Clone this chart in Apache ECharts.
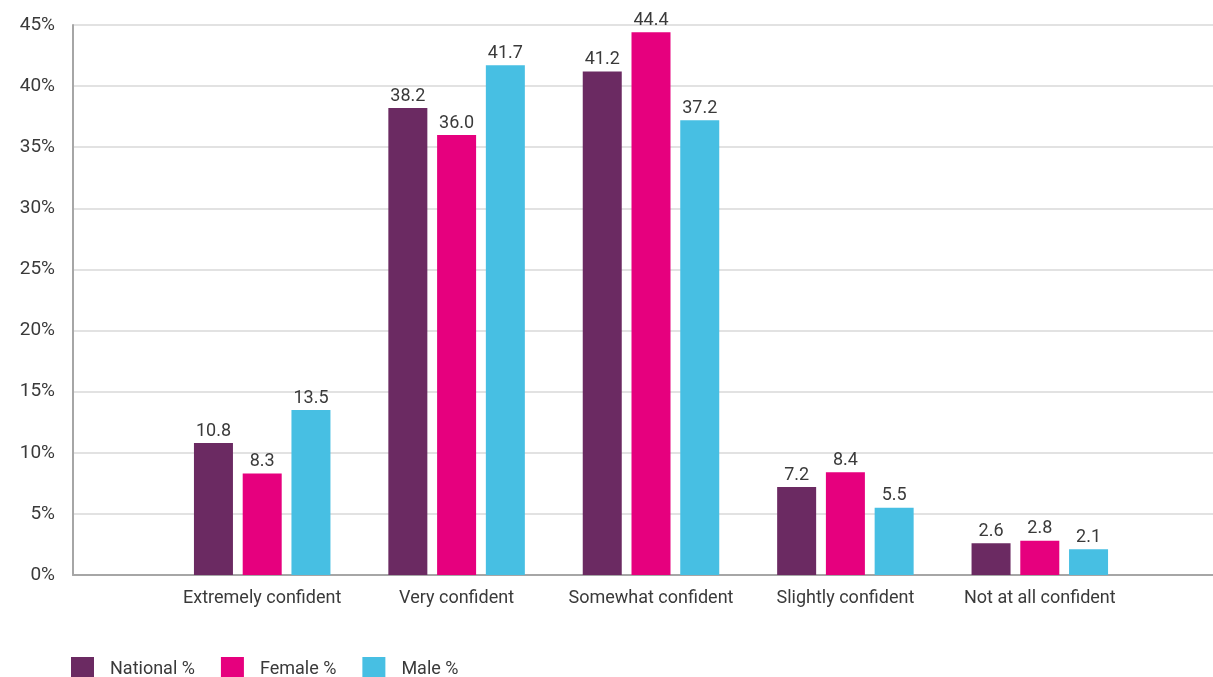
<!DOCTYPE html>
<html>
<head>
<meta charset="utf-8">
<script src="https://cdn.jsdelivr.net/npm/echarts@6/dist/echarts.min.js"></script>
<style>
  html, body { margin: 0; padding: 0; background: #fff; }
  #chart { width: 1213px; height: 677px; }
</style>
</head>
<body>
<div id="chart"></div>
<script>
// Confidence levels and the share of respondents (%) in each group
const categories = ['Extremely confident', 'Very confident', 'Somewhat confident', 'Slightly confident', 'Not at all confident'];
const nationalPct = [10.8, 38.2, 41.2, 7.2, 2.6];
const femalePct = [8.3, 36.0, 44.4, 8.4, 2.8];
const malePct = [13.5, 41.7, 37.2, 5.5, 2.1];
const seriesNames = ['National %', 'Female %', 'Male %'];
const yTicks = { min: 0, max: 45, interval: 5 };

const colors = ['#6B2A62', '#E6007E', '#47BFE3'];
const FONT = 'Roboto';
const TEXT = '#3a3a3a';

const chart = echarts.init(document.getElementById('chart'), null, { renderer: 'canvas' });

const valueLabel = {
  show: true,
  position: 'top',
  distance: 3,
  color: TEXT,
  fontFamily: FONT,
  fontSize: 18,
  formatter: p => Number(p.value).toFixed(1)
};

const dataSets = [nationalPct, femalePct, malePct];

chart.setOption({
  animation: false,
  color: colors,
  textStyle: { fontFamily: FONT },
  grid: [
    // full-width frame: gridlines, value ticks, axis lines
    { left: 73, right: 0, top: 25, bottom: 102 },
    // inner area where the category bands sit
    { left: 165, right: 76, top: 25, bottom: 102 }
  ],
  legend: {
    data: seriesNames,
    left: 71,
    top: 657,
    padding: 0,
    icon: 'rect',
    itemWidth: 23,
    itemHeight: 24,
    itemGap: 26,
    textStyle: { color: TEXT, fontFamily: FONT, fontSize: 18, padding: [0, 0, 0, 11] }
  },
  xAxis: [
    {
      gridIndex: 0, type: 'value', min: 0, max: 1,
      axisLine: { show: true, lineStyle: { color: '#a6a6a6', width: 2 } },
      axisTick: { show: false }, axisLabel: { show: false }, splitLine: { show: false }
    },
    {
      gridIndex: 1, type: 'category', data: categories,
      axisLine: { show: false }, axisTick: { show: false },
      axisLabel: { interval: 0, color: TEXT, fontFamily: FONT, fontSize: 18, margin: 14 }
    }
  ],
  yAxis: [
    {
      gridIndex: 0, type: 'value', min: yTicks.min, max: yTicks.max, interval: yTicks.interval,
      axisLine: { show: true, lineStyle: { color: '#a6a6a6', width: 2 } },
      axisTick: { show: false },
      axisLabel: { color: TEXT, fontFamily: FONT, fontSize: 19, margin: 18, formatter: '{value}%' },
      splitLine: { show: true, lineStyle: { color: '#e2e2e2', width: 2 } }
    },
    {
      gridIndex: 1, type: 'value', min: yTicks.min, max: yTicks.max, interval: yTicks.interval,
      show: false
    }
  ],
  series: seriesNames.map((name, i) => ({
    name,
    type: 'bar',
    xAxisIndex: 1,
    yAxisIndex: 1,
    data: dataSets[i],
    barWidth: 39,
    barGap: '25%',
    label: valueLabel,
    itemStyle: { color: colors[i] }
  }))
});
</script>
</body>
</html>
